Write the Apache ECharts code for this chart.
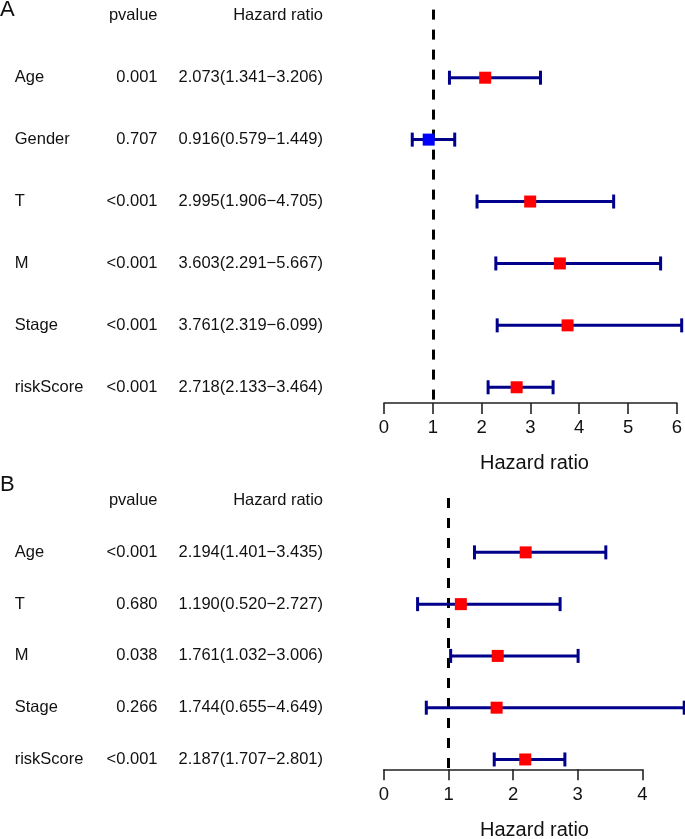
<!DOCTYPE html>
<html><head><meta charset="utf-8">
<script src="https://cdn.jsdelivr.net/npm/echarts@6/dist/echarts.min.js"></script>
<style>html,body{margin:0;padding:0;background:#fff}#c{width:685px;height:839px}</style>
</head><body><div id="c"></div>
<script>
// Panel A (univariate)
const catsA = ['Age', 'Gender', 'T', 'M', 'Stage', 'riskScore'];
const pA = ['0.001', '0.707', '<0.001', '<0.001', '<0.001', '<0.001'];
const hrA = [2.073, 0.916, 2.995, 3.603, 3.761, 2.718];
const lowA = [1.341, 0.579, 1.906, 2.291, 2.319, 2.133];
const highA = [3.206, 1.449, 4.705, 5.667, 6.099, 3.464];
const ticksA = [0, 1, 2, 3, 4, 5, 6];
// Panel B (multivariate)
const catsB = ['Age', 'T', 'M', 'Stage', 'riskScore'];
const pB = ['<0.001', '0.680', '0.038', '0.266', '<0.001'];
const hrB = [2.194, 1.190, 1.761, 1.744, 2.187];
const lowB = [1.401, 0.520, 1.032, 0.655, 1.707];
const highB = [3.435, 2.727, 3.006, 4.649, 2.801];
const ticksB = [0, 1, 2, 3, 4];

const FONT = 'Liberation Sans, Arial, sans-serif';
const BAR = '#00008B';

function fmt(h, l, u) { return h.toFixed(3) + '(' + l.toFixed(3) + '\u2212' + u.toFixed(3) + ')'; }

function tableSeries(gi, cats, ps, hr, lo, hi) {
  const rows = [['', 'pvalue', 'Hazard ratio']].concat(cats.map((c, i) => [c, ps[i], fmt(hr[i], lo[i], hi[i])]));
  const data = rows.map((r, k) => [0, k - 1]);
  return {
    type: 'custom', xAxisIndex: gi, yAxisIndex: gi, silent: true, clip: false,
    data: data, encode: { x: 0, y: 1 },
    renderItem: function (params, api) {
      const y = api.coord([0, api.value(1)])[1];
      const r = rows[params.dataIndex];
      const base = { fontSize: 16.5, fontFamily: FONT, fill: '#111', verticalAlign: 'middle' };
      return {
        type: 'group', children: [
          { type: 'text', style: Object.assign({ text: r[0], x: 14.7, y: y, align: 'left' }, base) },
          { type: 'text', style: Object.assign({ text: r[1], x: 157.5, y: y, align: 'right' }, base) },
          { type: 'text', style: Object.assign({ text: r[2], x: 323, y: y, align: 'right' }, base) }
        ]
      };
    }
  };
}

function errSeries(gi, lo, hi) {
  return {
    type: 'custom', xAxisIndex: gi, yAxisIndex: gi, silent: true, clip: false, z: 3,
    data: lo.map((l, i) => [l, hi[i], i]),
    encode: { x: [0, 1], y: 2 },
    renderItem: function (params, api) {
      const y = api.value(2);
      const a = api.coord([api.value(0), y]);
      const b = api.coord([api.value(1), y]);
      const h = 7;
      const st = { stroke: BAR, lineWidth: 3 };
      return {
        type: 'group', children: [
          { type: 'line', shape: { x1: a[0], y1: a[1], x2: b[0], y2: b[1] }, style: st },
          { type: 'line', shape: { x1: a[0], y1: a[1] - h, x2: a[0], y2: a[1] + h }, style: st },
          { type: 'line', shape: { x1: b[0], y1: b[1] - h, x2: b[0], y2: b[1] + h }, style: st }
        ]
      };
    }
  };
}

function ptSeries(gi, hr) {
  return {
    type: 'scatter', xAxisIndex: gi, yAxisIndex: gi, silent: true, z: 4,
    symbol: 'rect', symbolSize: 12,
    data: hr.map((v, i) => ({ value: [v, i], itemStyle: { color: v < 1 ? '#0000FF' : '#FF0000', opacity: 1 } })),
    markLine: {
      silent: true, symbol: 'none', z: 1, label: { show: false },
      lineStyle: { type: [10, 10], color: '#000', width: 3, opacity: 1 },
      data: [{ xAxis: 1 }]
    }
  };
}

function xAxisCfg(gi, ticks, margin) {
  return {
    type: 'value', gridIndex: gi, min: ticks[0], max: ticks[ticks.length - 1], interval: 1,
    splitLine: { show: false },
    axisLine: { show: true, onZero: false, lineStyle: { color: '#222', width: 1.6 } },
    axisTick: { show: true, inside: false, length: 11, lineStyle: { color: '#222', width: 1.6 } },
    axisLabel: { fontSize: 18.5, color: '#111', fontFamily: FONT, margin: margin }
  };
}

const chart = echarts.init(document.getElementById('c'), null, { renderer: 'canvas' });
chart.setOption({
  backgroundColor: '#fff',
  animation: false,
  grid: [
    { left: 384, width: 295.3, top: 9.6, height: 393.4 },
    { left: 384, width: 258.3, top: 498, height: 271.3 }
  ],
  xAxis: [xAxisCfg(0, ticksA, 15), xAxisCfg(1, ticksB, 16)],
  yAxis: [
    { type: 'value', gridIndex: 0, inverse: true, min: -1.1, max: 5.254, show: false },
    { type: 'value', gridIndex: 1, inverse: true, min: -1.05, max: 4.19, show: false }
  ],
  graphic: [
    { type: 'text', x: 0, y: 10, style: { text: 'A', fontSize: 22, fontFamily: FONT, fill: '#111', verticalAlign: 'middle' } },
    { type: 'text', x: 0, y: 485, style: { text: 'B', fontSize: 22, fontFamily: FONT, fill: '#111', verticalAlign: 'middle' } },
    { type: 'text', x: 534.5, y: 463, style: { text: 'Hazard ratio', fontSize: 20, fontFamily: FONT, fill: '#111', align: 'center', verticalAlign: 'middle' } },
    { type: 'text', x: 534.5, y: 830, style: { text: 'Hazard ratio', fontSize: 20, fontFamily: FONT, fill: '#111', align: 'center', verticalAlign: 'middle' } }
  ],
  series: [
    tableSeries(0, catsA, pA, hrA, lowA, highA),
    errSeries(0, lowA, highA),
    ptSeries(0, hrA),
    tableSeries(1, catsB, pB, hrB, lowB, highB),
    errSeries(1, lowB, highB),
    ptSeries(1, hrB)
  ]
});
</script></body></html>
